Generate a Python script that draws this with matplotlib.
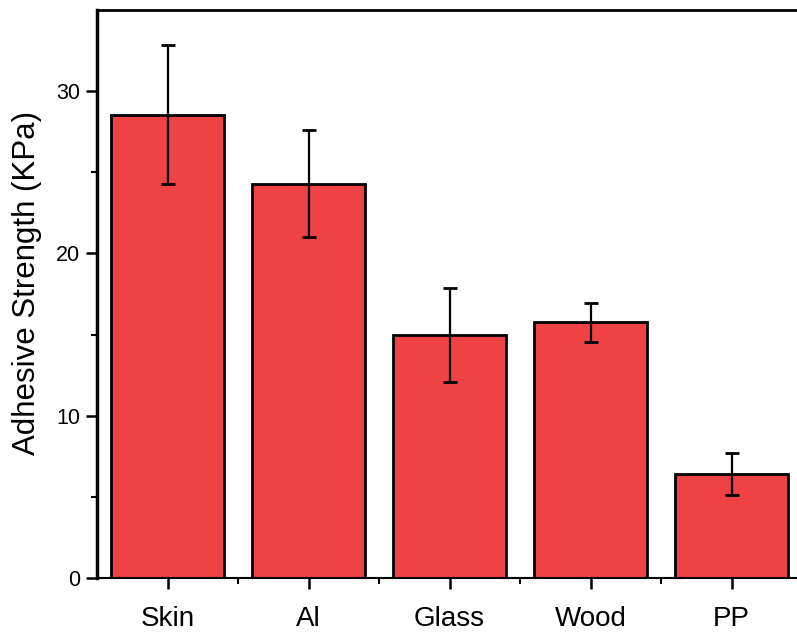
import matplotlib
matplotlib.use("Agg")
import matplotlib.pyplot as plt
from matplotlib.ticker import MultipleLocator, FixedLocator

categories = ["Skin", "Al", "Glass", "Wood", "PP"]
values = [28.55, 24.3, 15.0, 15.75, 6.42]
errors = [4.3, 3.3, 2.9, 1.2, 1.3]
y_minor = [5, 15, 25]

plt.rcParams['font.family'] = ['Liberation Sans', 'DejaVu Sans']

fig = plt.figure(figsize=(7.97, 6.37), dpi=100)
ax = fig.add_axes([97/797, 1 - 578/637, (802 - 97)/797, (578 - 10)/637])

x = list(range(1, len(categories) + 1))
ax.bar(x, values, width=0.8, color='#EF4244', edgecolor='black', linewidth=2,
       zorder=2)
ax.errorbar(x, values, yerr=errors, fmt='none', ecolor='black', elinewidth=1.6,
            capsize=5, capthick=2, zorder=3)

ax.set_xlim(0.5, 5.5)
ax.set_ylim(0, 35)
ax.set_xticks(x)
ax.set_xticklabels(categories, fontsize=20)
ax.xaxis.set_minor_locator(FixedLocator([1.5, 2.5, 3.5, 4.5]))
ax.yaxis.set_major_locator(MultipleLocator(10))
ax.yaxis.set_minor_locator(FixedLocator(y_minor))
ax.tick_params(axis='y', which='major', labelsize=15.5, length=8, width=1.8,
               direction='out', pad=4)
ax.tick_params(axis='x', which='major', length=8, width=1.8, direction='out',
               pad=12)
ax.tick_params(which='minor', length=4, width=1.5, direction='out')
ax.set_ylabel("Adhesive Strength (KPa)", fontsize=22.5)
ax.yaxis.set_label_coords(-0.078, 0.52)

ax.spines['left'].set_linewidth(2.5)
ax.spines['top'].set_linewidth(2)
ax.spines['bottom'].set_linewidth(1.5)
ax.spines['right'].set_linewidth(2)

fig.savefig("out.png", dpi=100)
